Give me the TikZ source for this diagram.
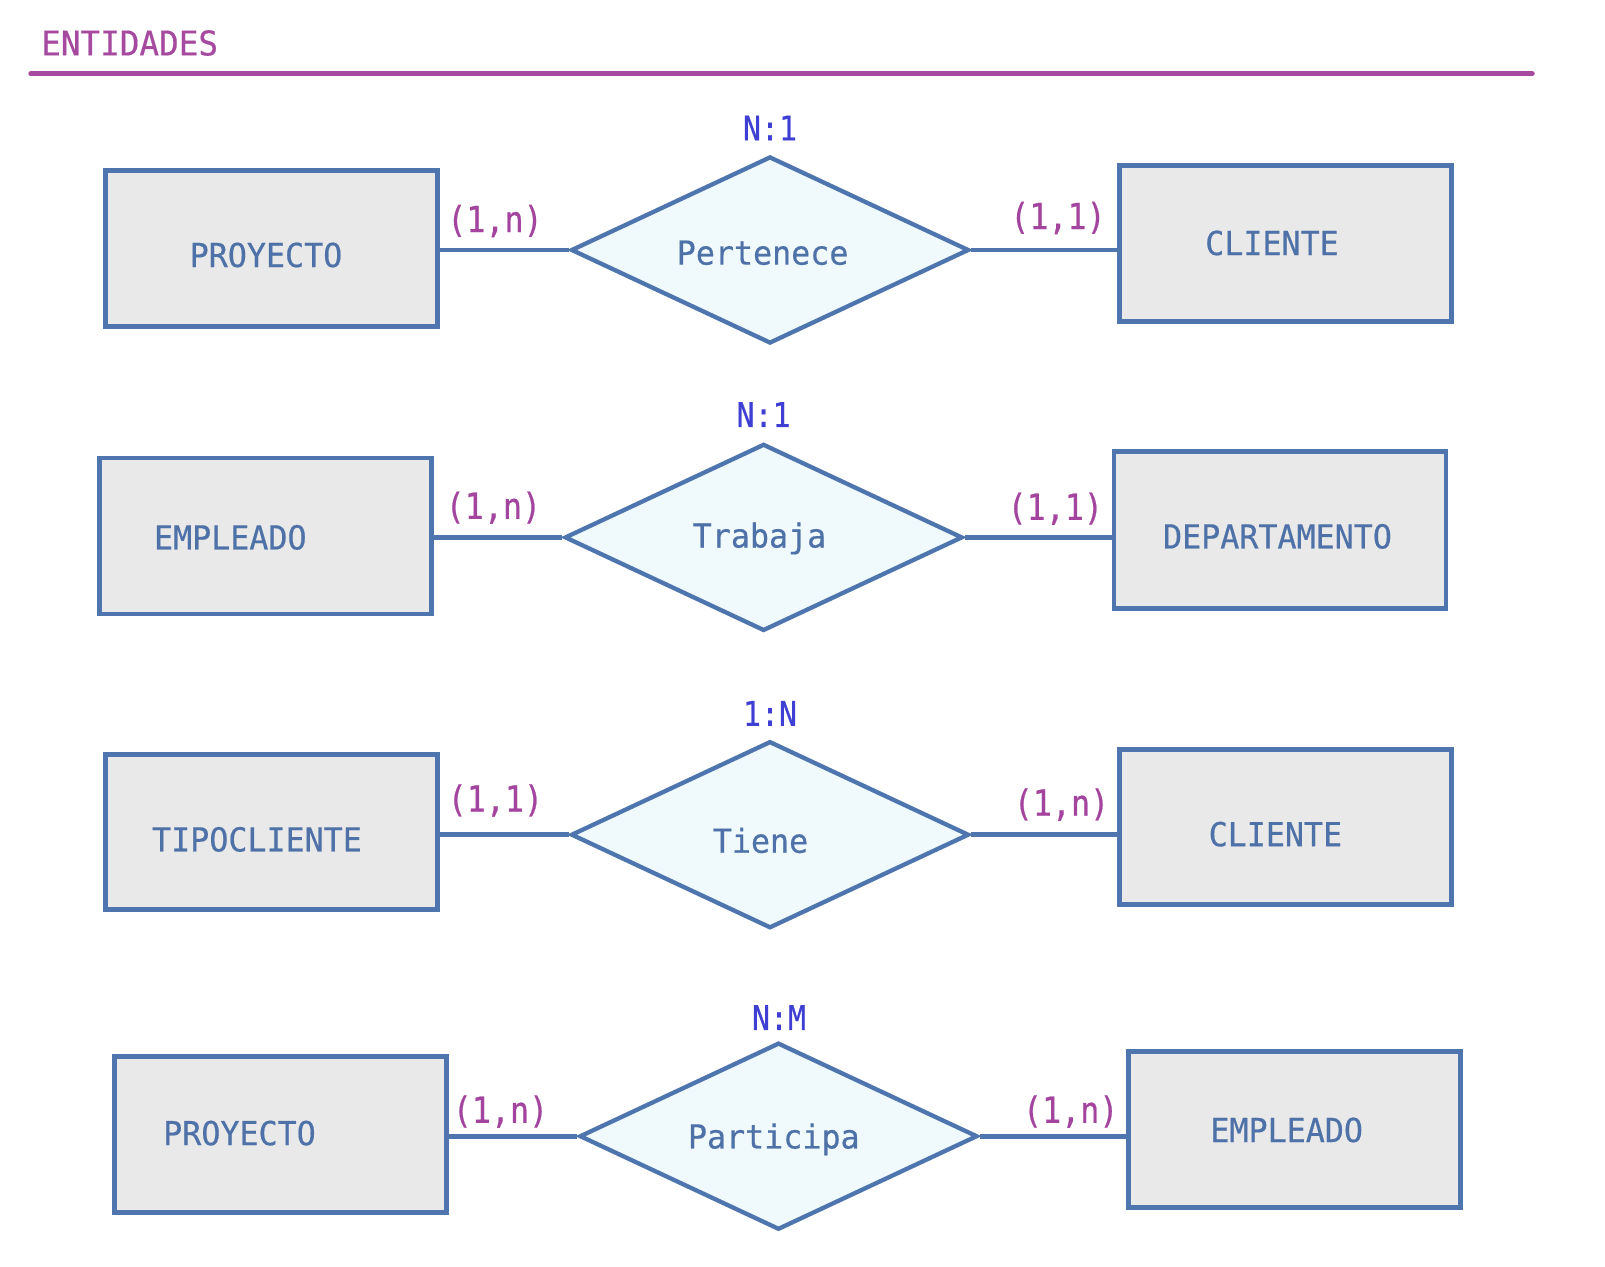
\documentclass[tikz,border=0pt]{standalone}
\usepackage{fontspec}
\usetikzlibrary{shapes.geometric}
\newfontfamily\erfont[FakeStretch=0.88,FakeBold=0.6]{DejaVu Sans Mono}
\newfontfamily\erwide[FakeStretch=0.96,FakeBold=0.5]{DejaVu Sans Mono}
\definecolor{erline}{RGB}{78,117,173}
\definecolor{erbox}{RGB}{233,233,233}
\definecolor{erdia}{RGB}{240,250,253}
\definecolor{ertext}{RGB}{78,113,168}
\definecolor{ercard}{RGB}{163,68,158}
\definecolor{erratio}{RGB}{63,63,212}
\definecolor{erhead}{RGB}{166,74,160}
\begin{document}
\begin{tikzpicture}[x=1pt,y=-1pt,
  entbox/.style={draw=erline,fill=erbox,line width=4.8pt,rectangle,inner sep=0pt,minimum width=#1},
  entbox/.default=332,
  reldia/.style={draw=erline,fill=erdia,line width=4.3pt,diamond,inner sep=0pt,minimum width=398,minimum height=187},
  enttext/.style={text=ertext,font=\erwide\fontsize{33}{38}\selectfont,inner sep=0pt},
  card/.style={text=ercard,font=\erfont\fontsize{36}{40}\selectfont,inner sep=0pt},
  ratio/.style={text=erratio,font=\erfont\fontsize{34}{38}\selectfont,inner sep=0pt},
  conn/.style={draw=erline,line width=4.8pt}]
\useasboundingbox (0,0) rectangle (1605,1266);
% header
\node[text=erhead,font=\erwide\fontsize{34}{38}\selectfont,inner sep=0pt,anchor=west] (hdr) at (41,43) {ENTIDADES};
\coordinate (hl) at (31,73.7);
\coordinate (hr) at (1532,73.7);
\draw[draw=erhead,line width=5.5pt,line cap=round] (hl) -- (hr);

% row 1
\node[entbox,minimum height=156] (b1) at (271.8,248.2) {};
\node[reldia] (d1) at (770,250) {};
\node[entbox,minimum height=156] (c1) at (1285.6,243.1) {};
\node[enttext] (tb1) at (266,255) {PROYECTO};
\node[enttext] (tc1) at (1272,243) {CLIENTE};
\node[enttext] (td1) at (762.6,252.8) {Pertenece};
\node[ratio] (r1) at (770,128) {N:1};
\node[card] (l1) at (495,221) {(1,n)};
\node[card] (m1) at (1058,218) {(1,1)};
\draw[conn] (d1.west -| b1.east) -- (d1.west);
\draw[conn] (d1.east) -- (d1.east -| c1.west);

% row 2
\node[entbox,minimum height=156] (b2) at (265.6,535.9) {};
\node[reldia] (d2) at (763.6,537.4) {};
\node[entbox,minimum height=157] (c2) at (1280,530.2) {};
\node[enttext] (tb2) at (230.3,537.4) {EMPLEADO};
\node[enttext] (tc2) at (1277.5,536.4) {DEPARTAMENTO};
\node[enttext] (td2) at (759.5,538.4) {Trabaja};
\node[ratio] (r2) at (763.6,414.6) {N:1};
\node[card] (l2) at (493.4,507.7) {(1,n)};
\node[card] (m2) at (1055.3,508.7) {(1,1)};
\draw[conn] (d2.west -| b2.east) -- (d2.west);
\draw[conn] (d2.east) -- (d2.east -| c2.west);

% row 3
\node[entbox,minimum height=155] (b3) at (271.8,832.2) {};
\node[reldia] (d3) at (770,834.7) {};
\node[entbox,minimum height=155] (c3) at (1285.6,827.1) {};
\node[enttext] (tb3) at (257,839.4) {TIPOCLIENTE};
\node[enttext] (tc3) at (1275.4,834.2) {CLIENTE};
\node[enttext] (td3) at (760.5,840.4) {Tiene};
\node[ratio] (r3) at (770,713.4) {1:N};
\node[card] (l3) at (495.4,800.5) {(1,1)};
\node[card] (m3) at (1061.5,804.6) {(1,n)};
\draw[conn] (d3.west -| b3.east) -- (d3.west);
\draw[conn] (d3.east) -- (d3.east -| c3.west);

% row 4
\node[entbox,minimum height=156] (b4) at (280.5,1134.7) {};
\node[reldia] (d4) at (778.5,1136.2) {};
\node[entbox,minimum height=156] (c4) at (1294.8,1129.5) {};
\node[enttext] (tb4) at (239.5,1133.1) {PROYECTO};
\node[enttext] (tc4) at (1286.7,1130) {EMPLEADO};
\node[enttext] (td4) at (773.8,1139.3) {Participa};
\node[ratio] (r4) at (779,1017.5) {N:M};
\node[card] (l4) at (500.5,1111.6) {(1,n)};
\node[card] (m4) at (1070.7,1111.6) {(1,n)};
\draw[conn] (d4.west -| b4.east) -- (d4.west);
\draw[conn] (d4.east) -- (d4.east -| c4.west);
\end{tikzpicture}
\end{document}
